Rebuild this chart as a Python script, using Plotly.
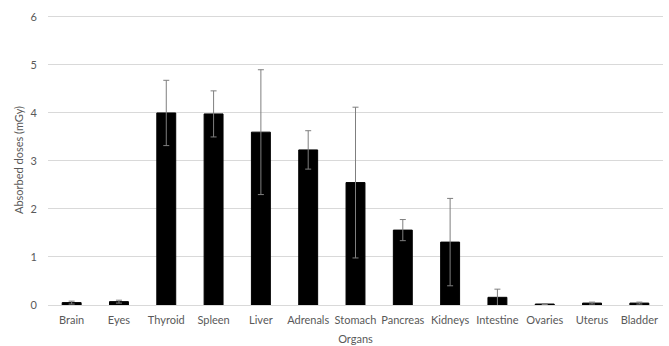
import plotly.graph_objects as go

organs = ["Brain", "Eyes", "Thyroid", "Spleen", "Liver", "Adrenals", "Stomach",
          "Pancreas", "Kidneys", "Intestine", "Ovaries", "Uterus", "Bladder"]
doses = [0.05, 0.07, 4.00, 3.98, 3.60, 3.23, 2.55, 1.56, 1.31, 0.16, 0.02, 0.04, 0.04]
errors = [0.03, 0.03, 0.68, 0.48, 1.30, 0.40, 1.57, 0.22, 0.91, 0.17, 0.01, 0.02, 0.02]
y_ticks = [0, 1, 2, 3, 4, 5, 6]

font = dict(family="Lato, Open Sans, sans-serif", size=11, color="#595959")

fig = go.Figure(go.Bar(
    x=organs, y=doses,
    marker=dict(color="black", line=dict(color="black", width=1)),
    error_y=dict(type="data", array=errors, visible=True, color="#7f7f7f", thickness=1, width=3),
    width=0.4,
))

fig.update_layout(
    width=669, height=346,
    margin=dict(l=48, r=6, t=15, b=41, autoexpand=False),
    paper_bgcolor="white", plot_bgcolor="white",
    font=font, showlegend=False,
    xaxis=dict(title=dict(text="Organs", font=font, standoff=10), showgrid=False,
               showline=True, linecolor="#d9d9d9", linewidth=1, ticks="",
               ticklabelstandoff=5, tickfont=font, automargin=False),
    yaxis=dict(title=dict(text="Absorbed doses (mGy)", font=font, standoff=4),
               range=[0, 6.04], tickvals=y_ticks, showgrid=True, gridcolor="#d9d9d9",
               gridwidth=1, zeroline=False, ticks="", ticklabelstandoff=10, tickfont=font,
               automargin=False),
)

fig.write_html("out.html", config={"displayModeBar": False},
               post_script="document.body.style.margin='0';document.body.style.overflow='hidden';")
